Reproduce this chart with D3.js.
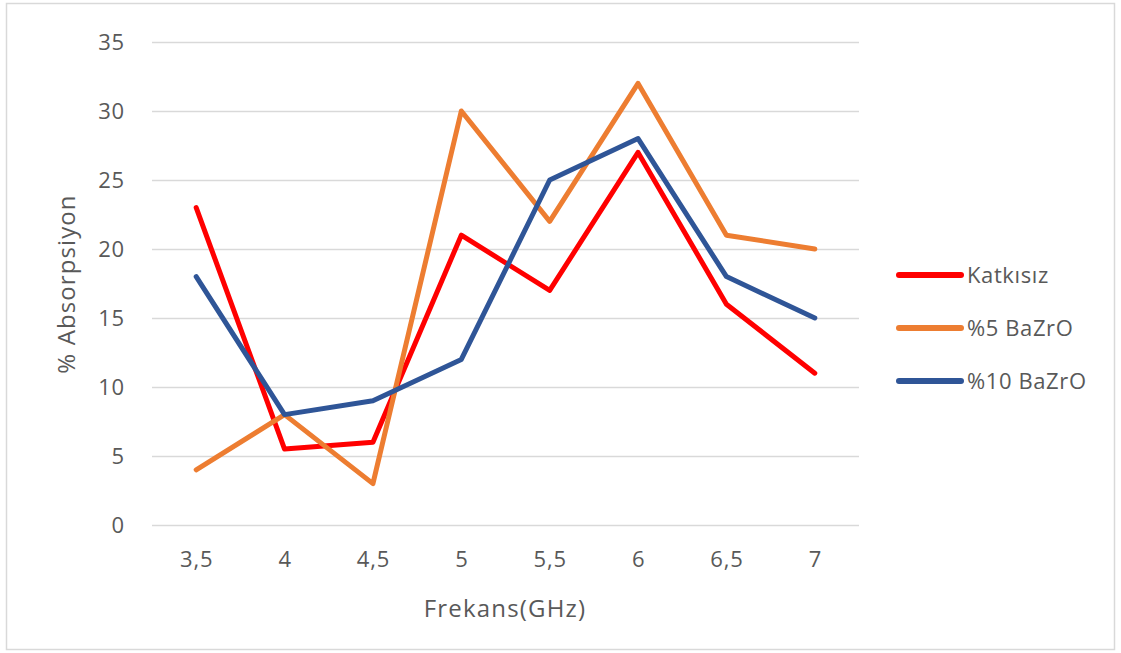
<!DOCTYPE html>
<html><head><meta charset="utf-8">
<script src="https://cdn.jsdelivr.net/npm/d3@7"></script>
<style>body{margin:0;background:#fff;} text{font-family:"Open Sans",sans-serif;fill:#595959;}</style>
</head><body>
<svg id="c" width="1121" height="653"></svg>
<script>
const categories = ["3,5","4","4,5","5","5,5","6","6,5","7"];
const katkisiz = [23,5.5,6,21,17,27,16,11];
const bazro5 = [4,8,3,30,22,32,21,20];
const bazro10 = [18,8,9,12,25,28,18,15];
const yTicks = [0,5,10,15,20,25,30,35];
const seriesNames = ["Katkısız","%5 BaZrO","%10 BaZrO"];
const colors = ["#ff0000","#ed7d31","#2f5597"];

const svg = d3.select("#c");
svg.append("rect").attr("x",6.5).attr("y",3.5).attr("width",1108).attr("height",646)
  .attr("fill","#fff").attr("stroke","#d9d9d9").attr("stroke-width",1.5);

const L=152, R=859, T=42, B=525;
const x = d3.scalePoint().domain(categories).range([L,R]).padding(0.5);
const y = d3.scaleLinear().domain([0,35]).range([B,T]);

const yAxis = svg.append("g").attr("transform",`translate(${L},0)`)
  .call(d3.axisLeft(y).tickValues(yTicks).tickSize(-(R-L)).tickPadding(27));
yAxis.select(".domain").remove();
yAxis.selectAll("line").attr("stroke","#d9d9d9").attr("stroke-width",1.3);
yAxis.selectAll("text").style("font-size","22px").style("letter-spacing","0.8px").attr("fill","#595959");

const xAxis = svg.append("g").attr("transform",`translate(0,${B})`)
  .call(d3.axisBottom(x).tickSize(0).tickPadding(26));
xAxis.select(".domain").remove();
xAxis.selectAll("text").style("font-size","22px").style("letter-spacing","0.8px").attr("fill","#595959");

const line = d3.line().x((d,i)=>x(categories[i])).y(d=>y(d));
[katkisiz,bazro5,bazro10].forEach((s,k)=>{
  svg.append("path").datum(s).attr("d",line).attr("fill","none")
    .attr("stroke",colors[k]).attr("stroke-width",5)
    .attr("stroke-linejoin","round").attr("stroke-linecap","round");
});

svg.append("text").attr("transform","translate(75,284) rotate(-90)")
  .attr("text-anchor","middle").style("font-size","24px").style("letter-spacing","1.1px").text("% Absorpsiyon");
svg.append("text").attr("x",505).attr("y",617).attr("text-anchor","middle")
  .style("font-size","24px").style("letter-spacing","1.2px").text("Frekans(GHz)");

const lg = svg.append("g");
seriesNames.forEach((n,k)=>{
  const yy = 275 + k*53;
  lg.append("line").attr("x1",899).attr("x2",961).attr("y1",yy).attr("y2",yy)
    .attr("stroke",colors[k]).attr("stroke-width",6).attr("stroke-linecap","round");
  lg.append("text").attr("x",967).attr("y",yy+8).style("font-size","22px").style("letter-spacing","0.6px").text(n);
});
</script>
</body></html>
